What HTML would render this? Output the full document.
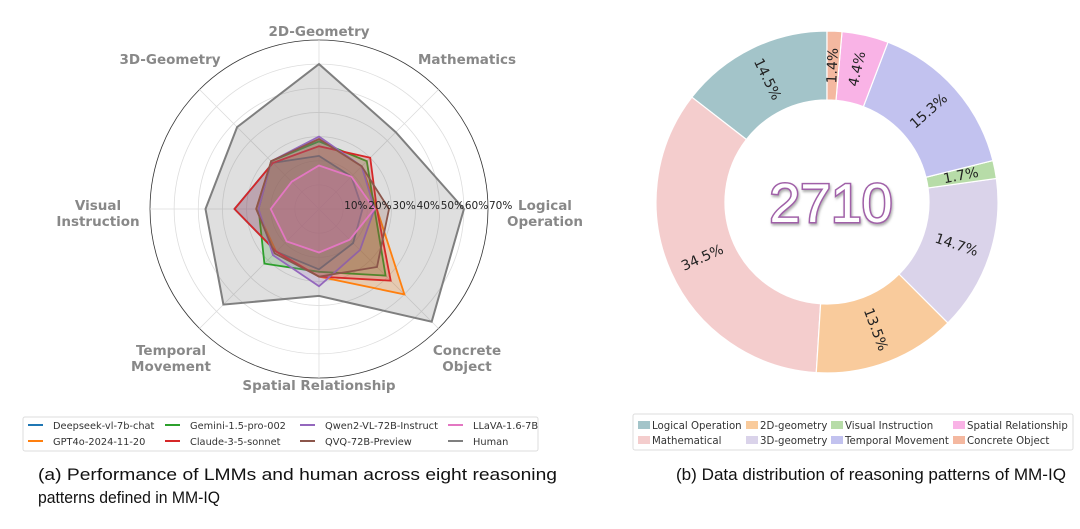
<!DOCTYPE html>
<html><head><meta charset="utf-8"><style>
html,body{margin:0;padding:0;background:#fff;}
svg{display:block;}
text{font-family:"DejaVu Sans","Liberation Sans",sans-serif;}
</style></head><body>
<svg id="fig" width="1080" height="529" viewBox="0 0 1080 529" xmlns="http://www.w3.org/2000/svg">
<defs>
<filter id="sh" x="-20%" y="-20%" width="140%" height="160%"><feDropShadow dx="1" dy="2" stdDeviation="1.2" flood-color="#777" flood-opacity="0.6"/></filter>
</defs>
<g id="radar"></g>
<g id="donut"></g>

<g>
<rect x="23" y="417" width="515" height="34" rx="2" fill="#fff" stroke="#ddd" stroke-width="1"/>
</g>
<g id="rlegend"></g>
<g>
<rect x="633" y="414" width="440" height="36" rx="2" fill="#fff" stroke="#ddd" stroke-width="1"/>
</g>
<g id="dlegend"></g>

<text x="38" y="480" font-size="17" textLength="519" lengthAdjust="spacingAndGlyphs" fill="#111" style="font-family:'Liberation Sans',sans-serif">(a)  Performance of LMMs and human across eight reasoning</text>
<text x="38" y="503" font-size="17" textLength="182" lengthAdjust="spacingAndGlyphs" fill="#111" style="font-family:'Liberation Sans',sans-serif">patterns defined in MM-IQ</text>
<text x="676" y="480" font-size="17" textLength="390" lengthAdjust="spacingAndGlyphs" fill="#111" style="font-family:'Liberation Sans',sans-serif">(b) Data distribution of reasoning patterns of MM-IQ</text>
</svg>
<script>
// ---- radar data ----
const axesLabels = ["Logical Operation","Mathematics","2D-Geometry","3D-Geometry","Visual Instruction","Temporal Movement","Spatial Relationship","Concrete Object"];
const modelNames = ["Deepseek-vl-7b-chat","GPT4o-2024-11-20","Gemini-1.5-pro-002","Claude-3-5-sonnet","Qwen2-VL-72B-Instruct","QVQ-72B-Preview","LLaVA-1.6-7B","Human"];
const modelColors = ["#1f77b4","#ff7f0e","#2ca02c","#d62728","#9467bd","#8c564b","#e377c2","#7f7f7f"];
const deepseek = [18,19,22,27,35,25,25,20];
const gpt4o = [24,25,29,28,26,25,28,50];
const gemini = [23,28,28,28,25,32,26,39];
const claude = [24,30,26,27,35,25,28,42];
const qwen = [23,25,30,28,25,27,32,24];
const qvq = [29,25,29,28,26,26,28,34];
const llava = [23,19,18,16,20,19,18,18];
const human = [60,45,60,48,47,56,36,66];
const radialTicks = ["10%","20%","30%","40%","50%","60%","70%"];
const radialTickValues = [10,20,30,40,50,60,70];
// ---- donut data ----
const donutCats = ["Logical Operation","Mathematical","2D-geometry","3D-geometry","Visual Instruction","Temporal Movement","Spatial Relationship","Concrete Object"];
const donutVals = [14.5,34.5,13.5,14.7,1.7,15.3,4.4,1.4];
const donutColors = ["#a3c4c9","#f4cdcd","#f9cb9c","#dad3ea","#b7dca8","#c2c2ef","#f9b3e6","#f4b8a0"];
const donutTotal = "2710";

const NS="http://www.w3.org/2000/svg";
function mk(tag,attrs,parent){const e=document.createElementNS(NS,tag);for(const k in attrs)e.setAttribute(k,attrs[k]);parent.appendChild(e);return e;}

// radar
const R=document.getElementById('radar');
const cx=319, cy=209, rmax=169, vmax=70;
const rScale=v=>v/vmax*rmax;
const ang=i=>i*Math.PI*2/axesLabels.length;
const pt=(i,v)=>[cx+rScale(v)*Math.cos(ang(i)), cy-rScale(v)*Math.sin(ang(i))];
radialTickValues.forEach((v,k)=>{
  const c=mk('circle',{cx:cx,cy:cy,r:rScale(v),fill:'none',stroke:k===radialTickValues.length-1?'#333':'#ddd','stroke-width':0.8},R);
  
  
});
axesLabels.forEach((a,i)=>{
  const p=pt(i,vmax);
  const l=mk('line',{x1:cx,y1:cy,x2:p[0],y2:p[1],stroke:'#ddd','stroke-width':0.8},R);
  
  
});
const series=[deepseek,gpt4o,gemini,claude,qwen,qvq,llava,human];
const order=[7,0,1,2,3,4,5,6];
order.forEach(s=>{
  const pts=series[s].map((v,i)=>pt(i,v).map(n=>n.toFixed(1)).join(',')).join(' ');
  const pg=mk('polygon',{points:pts,fill:modelColors[s],'fill-opacity':s===7?0.25:0.22,stroke:modelColors[s],'stroke-width':s===7?2:1.8,'stroke-linejoin':'miter'},R);
  
  
});
radialTicks.forEach((t,k)=>{
  const tx=mk('text',{x:cx+rScale(radialTickValues[k])+1,y:cy,'font-size':10.5,fill:'#222'},R);
  tx.textContent=t;
  
  
});
const labelPos=[[545,205,["Logical","Operation"]],[467,59,["Mathematics"]],[319,31,["2D-Geometry"]],[170,59,["3D-Geometry"]],[98,205,["Visual","Instruction"]],[171,350,["Temporal","Movement"]],[319,385,["Spatial Relationship"]],[467,350,["Concrete","Object"]]];
labelPos.forEach((lp,i)=>{
  const tx=mk('text',{x:lp[0],y:lp[1]+5,'font-size':13.5,'font-weight':'bold',fill:'#888','text-anchor':'middle'},R);
  lp[2].forEach((s,j)=>{const ts=mk('tspan',{x:lp[0],dy:j?16:0},tx);ts.textContent=s;});
  
  
});

// radar legend
const RL=document.getElementById('rlegend');
const colX=[28,165,300,448];
modelNames.forEach((n,i)=>{
  const c=Math.floor(i/2), r=i%2;
  const x=colX[c], y=425+r*16;
  const g=mk('g',{},RL);
  
  
  mk('line',{x1:x,y1:y,x2:x+15,y2:y,stroke:modelColors[i],'stroke-width':2},g);
  const t=mk('text',{x:x+25,y:y+4,'font-size':9.8,fill:'#333'},g);
  t.textContent=n;
});

// donut
const D=document.getElementById('donut');
const dcx=827, dcy=202, Ro=171, Ri=102;
const total=donutVals.reduce((a,b)=>a+b,0);
let start=90;
donutVals.forEach((v,i)=>{
  const sweep=v/total*360, end=start+sweep;
  const a0=start*Math.PI/180, a1=end*Math.PI/180;
  const P=(r,a)=>[(dcx+r*Math.cos(a)).toFixed(2),(dcy-r*Math.sin(a)).toFixed(2)];
  const large=sweep>180?1:0;
  const p1=P(Ro,a0),p2=P(Ro,a1),p3=P(Ri,a1),p4=P(Ri,a0);
  const d=`M${p1} A${Ro},${Ro} 0 ${large} 0 ${p2} L${p3} A${Ri},${Ri} 0 ${large} 1 ${p4} Z`;
  const path=mk('path',{d:d,fill:donutColors[i],stroke:'#fff','stroke-width':1.2},D);
  
  
  const mid=(start+end)/2, am=mid*Math.PI/180, rl=(Ro+Ri)/2;
  const lx=dcx+rl*Math.cos(am), ly=dcy-rl*Math.sin(am);
  let rot=mid%360; if(rot>90&&rot<270) rot-=180;
  const t=mk('text',{x:lx,y:ly,'font-size':14,fill:'#222','text-anchor':'middle','dominant-baseline':'central',transform:`rotate(${(-rot).toFixed(2)} ${lx.toFixed(2)} ${ly.toFixed(2)})`},D);
  t.textContent=v.toFixed(1)+'%';
  
  
  start=end;
});
const ct=mk('text',{x:dcx+4,y:dcy+20,'font-size':55,'text-anchor':'middle',fill:'#fff',stroke:'#a060a8','stroke-width':3,'paint-order':'stroke',filter:'url(#sh)',style:"font-family:'Liberation Sans',sans-serif",textLength:123,lengthAdjust:'spacingAndGlyphs'},D);
ct.textContent=donutTotal;



// donut legend
const DL=document.getElementById('dlegend');
const dColX=[638,746,831,953];
donutCats.forEach((n,i)=>{
  const c=Math.floor(i/2), r=i%2;
  const x=dColX[c], y=425+r*15;
  const g=mk('g',{},DL);
  
  
  mk('rect',{x:x,y:y-4,width:12,height:8,fill:donutColors[i]},g);
  const t=mk('text',{x:x+14,y:y+4,'font-size':10.2,fill:'#333'},g);
  t.textContent=n;
});
</script>
</body></html>
